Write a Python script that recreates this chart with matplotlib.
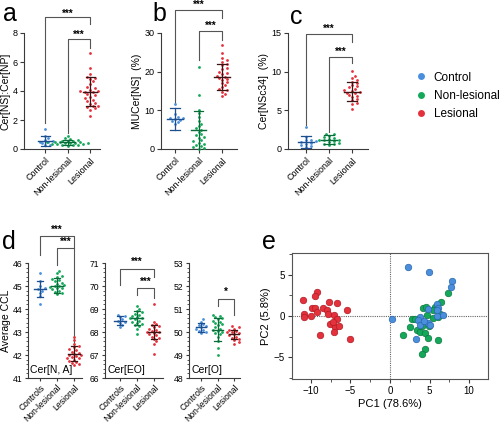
import numpy as np
import matplotlib
matplotlib.use("Agg")
import matplotlib.pyplot as plt
from matplotlib.lines import Line2D
from matplotlib.ticker import MultipleLocator, AutoMinorLocator

plt.rcParams['font.family'] = ['Liberation Sans', 'DejaVu Sans']

# ---------------- data ----------------
groups_abc = ["Control", "Non-lesional", "Lesional"]
groups_d = ["Controls", "Non-lesional", "Lesional"]
legend_labels = ["Control", "Non-lesional", "Lesional"]

a_control = [1.4, 0.9, 0.75, 0.62, 0.55, 0.5, 0.45, 0.38, 0.3, 0.25]
a_nonles = [0.9, 0.75, 0.7, 0.62, 0.58, 0.55, 0.52, 0.5, 0.48, 0.45, 0.45, 0.42,
            0.4, 0.4, 0.38, 0.35, 0.35, 0.32, 0.3, 0.28, 0.25, 0.2]
a_les = [6.6, 5.6, 5.2, 5.0, 4.9, 4.85, 4.7, 4.5, 4.3, 4.2, 4.1, 4.0, 4.0, 3.95,
         3.9, 3.8, 3.7, 3.6, 3.5, 3.4, 3.3, 3.2, 3.1, 3.0, 2.95, 2.9, 2.8, 2.7, 2.3]
a_mean = [0.55, 0.45, 3.95]
a_sd = [0.35, 0.18, 1.0]

b_control = [11.6, 9.0, 8.3, 8.0, 7.9, 7.7, 7.5, 7.2, 7.0, 6.5]
b_nonles = [21.3, 14.0, 10.1, 9.3, 8.3, 7.3, 6.5, 6.0, 5.4, 5.0, 4.5, 3.9, 3.5,
            3.2, 2.8, 2.3, 2.0, 1.6, 1.3, 1.0, 0.7, 0.4, 0.2, 0.1]
b_les = [27.0, 24.9, 23.5, 23.0, 22.6, 22.0, 21.7, 21.0, 20.6, 20.0, 19.6, 19.3,
         19.0, 18.7, 18.4, 18.2, 17.8, 17.4, 17.0, 16.5, 16.0, 15.5, 15.2, 14.8,
         14.2, 13.6]
b_mean = [7.8, 4.9, 18.6]
b_sd = [2.9, 4.9, 3.4]

c_control = [2.9, 1.5, 1.2, 1.1, 1.0, 0.9, 0.8, 0.7, 0.5, 0.4, 0.3]
c_nonles = [2.0, 1.9, 1.7, 1.5, 1.4, 1.3, 1.2, 1.2, 1.1, 1.0, 0.9, 0.8, 0.7, 0.6, 0.5]
c_les = [10.1, 9.5, 9.2, 8.9, 8.7, 8.5, 8.3, 8.1, 8.0, 7.8, 7.6, 7.5, 7.4, 7.3,
         7.2, 7.0, 6.9, 6.7, 6.5, 6.3, 6.0, 5.8, 5.2]
c_mean = [0.9, 1.2, 7.4]
c_sd = [0.8, 0.6, 1.2]

d1_control = [45.55, 45.2, 45.0, 44.9, 44.85, 44.8, 44.7, 44.55, 44.2]
d1_nonles = [45.65, 45.55, 45.45, 45.4, 45.3, 45.25, 45.2, 45.15, 45.1, 45.05,
             45.0, 45.0, 44.95, 44.9, 44.9, 44.85, 44.8, 44.75, 44.7, 44.65]
d1_les = [42.8, 42.65, 42.5, 42.4, 42.35, 42.25, 42.2, 42.15, 42.1, 42.05, 42.0,
          42.0, 41.95, 41.9, 41.85, 41.85, 41.8, 41.75, 41.7, 41.65, 41.6, 41.55]
d1_mean = [44.87, 45.02, 42.05]
d1_sd = [0.33, 0.32, 0.32]

d2_control = [68.75, 68.7, 68.65, 68.55, 68.5, 68.45, 68.4, 68.3, 68.2]
d2_nonles = [69.15, 69.0, 68.9, 68.85, 68.8, 68.75, 68.7, 68.65, 68.6, 68.6,
             68.55, 68.5, 68.45, 68.4, 68.35, 68.3, 68.25, 68.15, 67.9]
d2_les = [69.2, 68.45, 68.35, 68.3, 68.25, 68.2, 68.15, 68.1, 68.05, 68.0, 68.0,
          67.95, 67.9, 67.85, 67.8, 67.75, 67.7, 67.6, 67.5, 67.05]
d2_mean = [68.5, 68.6, 68.0]
d2_sd = [0.2, 0.3, 0.3]

d3_control = [50.55, 50.45, 50.35, 50.3, 50.25, 50.2, 50.15, 50.1, 50.05, 50.0, 49.95]
d3_nonles = [50.75, 50.7, 50.65, 50.6, 50.55, 50.5, 50.45, 50.4, 50.35, 50.3, 50.2,
             50.15, 50.1, 50.05, 50.0, 49.95, 49.9, 49.8, 49.6, 49.3, 49.0]
d3_les = [50.25, 50.2, 50.15, 50.1, 50.05, 50.0, 50.0, 49.95, 49.9, 49.85, 49.8,
          49.75, 49.7, 49.65, 49.55, 49.5]
d3_mean = [50.2, 50.1, 49.9]
d3_sd = [0.2, 0.5, 0.2]

pca_les_x = [-11.05, -9.28, -9.5, -9.9, -9.5, -10.84, -10.84, -10.0, -9.2, -8.44,
             -7.72, -7.93, -7.8, -7.05, -6.75, -5.4, -6.75, -7.6, -6.96, -7.05,
             -6.41, -8.86, -5.06, -7.2]
pca_les_y = [1.9, 2.9, 2.38, 1.0, 1.0, 0.28, -0.12, 0.0, 0.48, 1.0,
             1.69, 0.69, 0.2, 0.08, 1.57, 0.77, -0.4, -0.93, -1.33, -1.94,
             -1.25, -2.34, -2.78, -0.7]
pca_non_x = [7.38, 6.46, 5.7, 4.22, 4.56, 2.74, 2.53, 1.6, 3.38, 3.8, 4.43, 4.85,
             6.03, 4.43, 4.0, 5.49, 3.16, 4.98, 4.0, 4.64, 6.33, 5.49, 6.1]
pca_non_y = [2.78, 1.65, 1.09, 1.0, 1.09, -0.32, -1.33, -2.34, -1.73, -1.94, -2.02,
             -2.62, -2.94, -3.95, -4.56, -0.2, -0.32, -1.25, -1.25, 0.08, 0.28, 0.69,
             -0.1]
pca_con_x = [2.32, 4.98, 7.8, 7.68, 0.21, 3.25, 5.9, 6.12, 5.9, 6.75, 6.0, 4.85,
             3.8, 3.5, 3.8, 4.85, 5.06, 4.3]
pca_con_y = [5.93, 5.28, 4.27, 3.5, -0.4, -2.82, 1.41, 1.0, 0.69, 0.12, -0.04, 0.89,
             -0.12, -0.44, -1.13, -0.85, -1.13, -0.6]

# ---------------- style ----------------
C_BLUE = "#4a8fdc"
C_GREEN = "#14a85a"
C_RED = "#e4313b"
COLS = [C_BLUE, C_GREEN, C_RED]
DARK = ["#1d4f8e", "#0a6a38", "#3a1414"]
AXC = "#3a3a3a"
TICK_FS = 6.5
LAB_FS = 7.5

W, H = 500, 425
fig = plt.figure(figsize=(W / 100, H / 100), dpi=100)


def add_ax(x0, x1, y0, y1):
    return fig.add_axes([x0 / W, 1 - y1 / H, (x1 - x0) / W, (y1 - y0) / H])


def swarm_offsets(ax, vals, dpx=3.0):
    tr = ax.transData
    ys = np.array([tr.transform((0, v))[1] for v in vals])
    xunit = tr.transform((1, 0))[0] - tr.transform((0, 0))[0]
    order = np.argsort(ys)
    placed = []
    offs = np.zeros(len(vals))
    cands = [0]
    for j in range(1, 30):
        cands += [j, -j]
    for i in order:
        for c in cands:
            xo = c * dpx * 0.85
            ok = True
            for (px, py) in placed:
                if (px - xo) ** 2 + (py - ys[i]) ** 2 < dpx ** 2:
                    ok = False
                    break
            if ok:
                placed.append((xo, ys[i]))
                offs[i] = xo / xunit
                break
    return offs


def style_cat(ax, labels, fs=TICK_FS, tlen=3, xpad=2):
    for s in ["top", "right"]:
        ax.spines[s].set_visible(False)
    for s in ["left", "bottom"]:
        ax.spines[s].set_color(AXC)
        ax.spines[s].set_linewidth(0.8)
    ax.set_xticks(range(3))
    ax.set_xticklabels(labels, rotation=45, ha="right", rotation_mode="anchor",
                       fontsize=fs)
    ax.tick_params(axis="both", colors=AXC, labelcolor="black", width=0.8,
                   length=tlen, labelsize=fs, pad=1.5)
    ax.tick_params(axis="x", pad=xpad)


def draw_groups(ax, data, means, sds, dpx=3.0, ms=4.0):
    for i, vals in enumerate(data):
        offs = swarm_offsets(ax, vals, dpx)
        ax.scatter(i + offs, vals, s=ms, color=COLS[i], linewidths=0, zorder=3,
                   clip_on=False)
        m, s = means[i], sds[i]
        lo = max(m - s, ax.get_ylim()[0])
        ax.plot([i, i], [lo, m + s], color=DARK[i], lw=0.9, zorder=4, clip_on=False)
        ax.plot([i - 0.33, i + 0.33], [m, m], color=DARK[i], lw=1.0, zorder=4)
        ax.plot([i - 0.2, i + 0.2], [m + s, m + s], color=DARK[i], lw=0.9, zorder=4)
        if m - s >= ax.get_ylim()[0]:
            ax.plot([i - 0.2, i + 0.2], [m - s, m - s], color=DARK[i], lw=0.9, zorder=4)


def bracket(ax, x1, x2, y, yl, yr, ys, text, fs=7):
    ax.plot([x1, x1, x2, x2], [yl, y, y, yr], color="#555555", lw=0.8,
            clip_on=False, zorder=2)
    ax.text((x1 + x2) / 2, ys, text, ha="center", va="center", fontsize=fs,
            fontweight="bold", clip_on=False)


def cat_xlim(ax, axl, axr, c0, c2):
    sp = (c2 - c0) / 2
    ax.set_xlim((axl - c0) / sp, (axr - c0) / sp)


# ---------- panel a ----------
ax = add_ax(24, 100, 33, 149)
ax.set_ylim(0, 8)
cat_xlim(ax, 24, 100, 45, 90)
ax.set_yticks([0, 2, 4, 6, 8])
style_cat(ax, groups_abc)
draw_groups(ax, [a_control, a_nonles, a_les], a_mean, a_sd)
bracket(ax, 0, 2, 9.1, 1.8, 8.6, 9.35, "***")
bracket(ax, 1, 2, 7.6, 1.1, 7.0, 7.9, "***")
ax.set_ylabel("Cer[NS]:Cer[NP]", fontsize=LAB_FS, labelpad=1.5)

# ---------- panel b ----------
ax = add_ax(161, 237, 33, 149)
ax.set_ylim(0, 30)
cat_xlim(ax, 161, 237, 175, 222)
ax.set_yticks([0, 10, 20, 30])
style_cat(ax, groups_abc)
draw_groups(ax, [b_control, b_nonles, b_les], b_mean, b_sd)
bracket(ax, 0, 2, 35.9, 11.9, 34.0, 37.2, "***")
bracket(ax, 1, 2, 30.5, 23.0, 28.2, 31.8, "***")
ax.set_ylabel("MUCer[NS]  (%)", fontsize=LAB_FS, labelpad=2)

# ---------- panel c ----------
ax = add_ax(288, 368, 33, 149)
ax.set_ylim(0, 15)
cat_xlim(ax, 288, 368, 306, 352)
ax.set_yticks([0, 5, 10, 15])
style_cat(ax, groups_abc)
draw_groups(ax, [c_control, c_nonles, c_les], c_mean, c_sd)
bracket(ax, 0, 2, 14.9, 3.1, 13.9, 15.55, "***")
bracket(ax, 1, 2, 11.9, 2.2, 11.1, 12.55, "***")
ax.set_ylabel("Cer[NSc34]  (%)", fontsize=LAB_FS, labelpad=2)

# ---------- panel d ----------
dspecs = [
    (28, 82, 40, 74, (41, 46), [d1_control, d1_nonles, d1_les], d1_mean, d1_sd,
     "Cer[N, A]"),
    (105, 163, 120, 154, (66, 71), [d2_control, d2_nonles, d2_les], d2_mean, d2_sd,
     "Cer[EO]"),
    (189, 240, 201, 234, (48, 53), [d3_control, d3_nonles, d3_les], d3_mean, d3_sd,
     "Cer[O]"),
]
daxes = []
for (xl, xr, c0, c2, yl, data, mn, sd, lab) in dspecs:
    ax = add_ax(xl, xr, 263, 378)
    ax.set_ylim(*yl)
    cat_xlim(ax, xl, xr, c0, c2)
    ax.yaxis.set_major_locator(MultipleLocator(1))
    ax.yaxis.set_minor_locator(AutoMinorLocator(5))
    style_cat(ax, groups_d, fs=6.2, tlen=2.5, xpad=1)
    ax.tick_params(axis="y", which="minor", length=1.6, width=0.6, colors=AXC)
    draw_groups(ax, data, mn, sd, dpx=2.8)
    ax.text(0.04, 0.03, lab, transform=ax.transAxes, fontsize=7.5, ha="left",
            va="bottom")
    daxes.append(ax)

bracket(daxes[0], 0, 2, 47.17, 46.35, 46.65, 47.43, "***")
bracket(daxes[0], 1, 2, 46.65, 45.9, 42.43, 46.9, "***")
daxes[0].set_ylabel("Average CCL", fontsize=LAB_FS, labelpad=1.5)
bracket(daxes[1], 0, 2, 70.74, 70.04, 70.4, 71.05, "***")
bracket(daxes[1], 1, 2, 69.9, 69.6, 69.5, 70.17, "***")
bracket(daxes[2], 1, 2, 51.43, 51.13, 50.74, 51.75, "*")

# ---------- panel e ----------
ax = add_ax(292, 488, 253, 379)
ax.set_xlim(-12.4, 12.4)
ax.set_ylim(-7.6, 7.6)
ax.axhline(0, color="#666666", lw=0.8, ls=(0, (1, 1)), zorder=1)
ax.axvline(0, color="#666666", lw=0.8, ls=(0, (1, 1)), zorder=1)
ax.scatter(pca_les_x, pca_les_y, s=22, color=C_RED, edgecolors="#b01c25",
           linewidths=0.5, zorder=3)
ax.scatter(pca_non_x, pca_non_y, s=22, color=C_GREEN, edgecolors="#0b7a40",
           linewidths=0.5, zorder=3)
ax.scatter(pca_con_x, pca_con_y, s=22, color=C_BLUE, edgecolors="#2a66b0",
           linewidths=0.5, zorder=4)
ax.set_xticks([-10, -5, 0, 5, 10])
ax.set_yticks([-5, 0, 5])
ax.xaxis.set_minor_locator(MultipleLocator(2.5))
ax.yaxis.set_minor_locator(MultipleLocator(2.5))
for s in ax.spines.values():
    s.set_color("#555555")
    s.set_linewidth(0.8)
ax.tick_params(axis="both", which="major", length=3, width=0.8, colors=AXC,
               labelcolor="black", labelsize=7, pad=2)
ax.tick_params(axis="both", which="minor", length=2, width=0.6, colors=AXC)
ax.set_xlabel("PC1 (78.6%)", fontsize=8, labelpad=2)
ax.set_ylabel("PC2 (5.8%)", fontsize=8, labelpad=2)

# ---------- legend ----------
handles = [Line2D([0], [0], marker="o", ls="", color=c, markersize=5,
                  markeredgewidth=0) for c in COLS]
fig.legend(handles, legend_labels, loc="center left",
           bbox_to_anchor=(403 / W, 1 - 96 / H), frameon=False, fontsize=8.5,
           handletextpad=0.5, labelspacing=0.55, handlelength=1.2)

# ---------- panel letters ----------
for txt, x, y in [("a", 3, 14), ("b", 152, 14), ("c", 290, 17), ("d", 2, 242),
                  ("e", 262, 242)]:
    fig.text(x / W, 1 - y / H, txt, fontsize=18, ha="left", va="center")

fig.savefig("out.png", dpi=100)
